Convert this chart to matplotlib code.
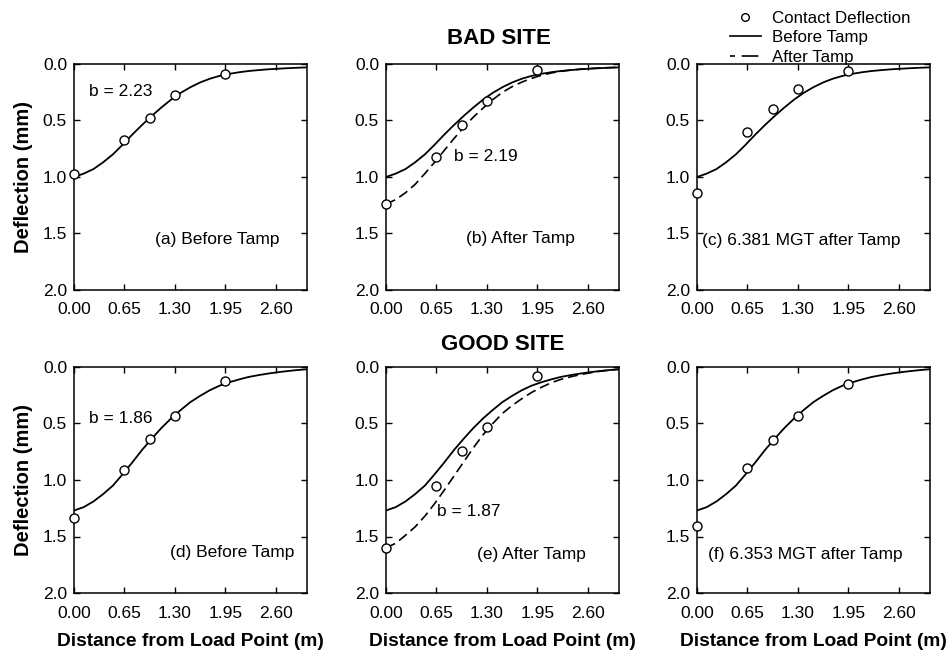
import numpy as np
import matplotlib
matplotlib.use("Agg")
import matplotlib.pyplot as plt
from matplotlib.lines import Line2D

plt.rcParams['font.family'] = ['Liberation Sans', 'DejaVu Sans']

# fitted deflection basins, read every 0.125 m
x_curve = [0.0, 0.125, 0.25, 0.375, 0.5, 0.625, 0.75, 0.875, 1.0, 1.125, 1.25, 1.375,
           1.5, 1.625, 1.75, 1.875, 2.0, 2.125, 2.25, 2.375, 2.5, 2.625, 2.75, 2.875, 3.0]
bad_before = [1.00, 0.97, 0.93, 0.87, 0.80, 0.715, 0.625, 0.54, 0.46, 0.385, 0.315, 0.255,
              0.205, 0.163, 0.13, 0.105, 0.087, 0.073, 0.062, 0.054, 0.047, 0.042, 0.037,
              0.033, 0.03]
bad_after = [1.24, 1.20, 1.14, 1.065, 0.97, 0.87, 0.765, 0.66, 0.56, 0.47, 0.39, 0.315,
             0.25, 0.20, 0.16, 0.127, 0.10, 0.08, 0.065, 0.054, 0.046, 0.04, 0.035,
             0.032, 0.03]
good_before = [1.27, 1.24, 1.19, 1.125, 1.05, 0.95, 0.845, 0.735, 0.635, 0.54, 0.455, 0.38,
               0.31, 0.255, 0.205, 0.165, 0.135, 0.11, 0.088, 0.072, 0.058, 0.046, 0.036,
               0.027, 0.02]
good_after = [1.60, 1.56, 1.49, 1.415, 1.32, 1.21, 1.09, 0.965, 0.84, 0.715, 0.60, 0.50,
              0.41, 0.34, 0.28, 0.225, 0.18, 0.14, 0.11, 0.087, 0.068, 0.052, 0.038,
              0.028, 0.02]

# measured contact deflections
x_meas = [0.0, 0.65, 0.975, 1.30, 1.95]
meas_a = [0.97, 0.67, 0.48, 0.27, 0.09]
meas_b = [1.24, 0.82, 0.54, 0.33, 0.05]
meas_c = [1.14, 0.60, 0.40, 0.22, 0.06]
meas_d = [1.34, 0.915, 0.635, 0.43, 0.12]
meas_e = [1.60, 1.05, 0.745, 0.53, 0.08]
meas_f = [1.41, 0.89, 0.65, 0.43, 0.15]

x_ticks = [0.0, 0.65, 1.30, 1.95, 2.60]
y_ticks = [0.0, 0.5, 1.0, 1.5, 2.0]

panels = [
    # meas, after curve, before curve, panel label, b label, label pos, b pos
    (meas_a, None, bad_before, '(a) Before Tamp', 'b = 2.23', (0.348, 0.222), (0.065, 0.88)),
    (meas_b, bad_after, bad_before, '(b) After Tamp', 'b = 2.19', (0.343, 0.23), (0.29, 0.59)),
    (meas_c, None, bad_before, '(c) 6.381 MGT after Tamp', None, (0.02, 0.217), None),
    (meas_d, None, good_before, '(d) Before Tamp', 'b = 1.86', (0.41, 0.18), (0.065, 0.774)),
    (meas_e, good_after, good_before, '(e) After Tamp', 'b = 1.87', (0.39, 0.17), (0.22, 0.36)),
    (meas_f, None, good_before, '(f) 6.353 MGT after Tamp', None, (0.047, 0.17), None),
]

W, H = 949, 658
fig = plt.figure(figsize=(W / 100, H / 100), dpi=100)

lefts = [74, 386, 697]
tops = [64, 367]
aw, ah = 233, 226

for i, (meas, after, before, lab, blab, lpos, bpos) in enumerate(panels):
    r, c = divmod(i, 3)
    ax = fig.add_axes([lefts[c] / W, 1 - (tops[r] + ah) / H, aw / W, ah / H])
    ax.plot(x_curve, before, color='black', lw=1.3)
    if after is not None:
        ax.plot(x_curve, after, color='black', lw=1.2, dashes=(6, 3))
    ax.plot(x_meas, meas, 'o', mfc='white', mec='black', ms=6.5, mew=1.0,
            clip_on=False, zorder=5)
    ax.set_xlim(0, 3.0)
    ax.set_ylim(2.0, 0.0)
    ax.set_xticks(x_ticks)
    ax.set_xticklabels(['%.2f' % v for v in x_ticks])
    ax.set_yticks(y_ticks)
    ax.set_yticklabels(['%.1f' % v for v in y_ticks])
    ax.tick_params(direction='in', top=True, right=True, length=4, width=1,
                   labelsize=12.5)
    ax.tick_params(axis='x', pad=9)
    ax.tick_params(axis='y', pad=5)
    for s in ax.spines.values():
        s.set_linewidth(1.1)
    ax.text(lpos[0], lpos[1], lab, transform=ax.transAxes, fontsize=12.5,
            ha='left', va='center')
    if blab:
        ax.text(bpos[0], bpos[1], blab, transform=ax.transAxes, fontsize=12.5,
                ha='left', va='center')
    if c == 0:
        ax.set_ylabel('Deflection (mm)', fontsize=14.5, fontweight='bold', labelpad=7)
    if r == 1:
        ax.set_xlabel('Distance from Load Point (m)', fontsize=13.8, fontweight='bold',
                      labelpad=9)

fig.text(499 / W, 1 - 39 / H, 'BAD SITE', fontsize=16, fontweight='bold',
         ha='center', va='center')
fig.text(503 / W, 1 - 344 / H, 'GOOD SITE', fontsize=16, fontweight='bold',
         ha='center', va='center')

handles = [
    Line2D([], [], ls='none', marker='o', mfc='white', mec='black', ms=5.5, mew=1.0),
    Line2D([], [], color='black', lw=1.2),
    Line2D([], [], color='black', lw=1.2, dashes=(3, 4, 10, 3)),
]
fig.legend(handles, ['Contact Deflection', 'Before Tamp', 'After Tamp'],
           loc='upper left', bbox_to_anchor=(720 / W, 1 - 1 / H), frameon=False,
           fontsize=12.2, handlelength=1.8, handletextpad=0.65, labelspacing=0.25,
           borderpad=0.1)

fig.savefig('out.png', dpi=100)
